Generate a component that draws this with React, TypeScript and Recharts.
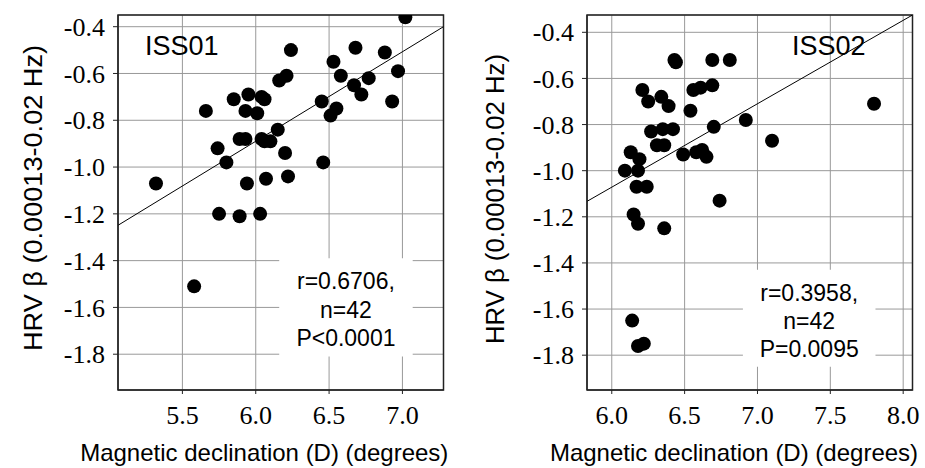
import { ScatterChart, Scatter, XAxis, YAxis, CartesianGrid, ReferenceLine, ReferenceArea, Label } from 'recharts'

// ISS01 panel
const iss01Declination = [
  7.02, 6.24, 6.68, 6.88, 6.53, 6.97, 6.58, 6.77, 6.16, 6.21, 6.67, 6.72, 6.93, 6.45,
  6.55, 6.51, 5.95, 5.85, 6.04, 6.06, 5.66, 5.93, 6.01, 6.15, 5.89, 5.93, 6.04, 6.06,
  6.1, 5.74, 6.2, 5.8, 6.46, 5.32, 5.94, 6.07, 6.22, 5.75, 5.89, 6.03, 5.58,
]
const iss01Beta = [
  -0.36, -0.5, -0.49, -0.51, -0.55, -0.59, -0.61, -0.62, -0.63, -0.61, -0.65, -0.69, -0.72, -0.72,
  -0.75, -0.78, -0.69, -0.71, -0.7, -0.71, -0.76, -0.76, -0.77, -0.84, -0.88, -0.88, -0.88, -0.89,
  -0.89, -0.92, -0.94, -0.98, -0.98, -1.07, -1.07, -1.05, -1.04, -1.2, -1.21, -1.2, -1.51,
]
const iss01Fit = [
  { x: 5.061, y: -1.249 },
  { x: 7.28, y: -0.4 },
]
const iss01Stats = ['r=0.6706,', 'n=42', 'P<0.0001']

// ISS02 panel
const iss02Declination = [
  6.43, 6.44, 6.69, 6.81, 6.21, 6.25, 6.34, 6.39, 6.56, 6.61, 6.69, 6.54, 6.27, 6.35,
  6.42, 6.31, 6.36, 6.7, 6.92, 7.1, 7.8, 6.13, 6.19, 6.09, 6.18, 6.49, 6.58, 6.62,
  6.65, 6.17, 6.24, 6.74, 6.15, 6.18, 6.36, 6.14, 6.18, 6.22,
]
const iss02Beta = [
  -0.52, -0.53, -0.52, -0.52, -0.65, -0.7, -0.68, -0.72, -0.65, -0.64, -0.63, -0.74, -0.83, -0.82,
  -0.82, -0.89, -0.89, -0.81, -0.78, -0.87, -0.71, -0.92, -0.95, -1.0, -1.0, -0.93, -0.92, -0.91,
  -0.94, -1.07, -1.07, -1.13, -1.19, -1.23, -1.25, -1.65, -1.76, -1.75,
]
const iss02Fit = [
  { x: 5.83, y: -1.133 },
  { x: 8.064, y: -0.325 },
]
const iss02Stats = ['r=0.3958,', 'n=42', 'P=0.0095']

const yTicks = [-1.8, -1.6, -1.4, -1.2, -1.0, -0.8, -0.6, -0.4]
const iss01XTicks = [5.5, 6.0, 6.5, 7.0]
const iss02XTicks = [6.0, 6.5, 7.0, 7.5, 8.0]

const SANS = '"Liberation Sans", Arial, sans-serif'
const SERIF =
  '"Liberation Serif", "DejaVu Serif", "Noto Serif", Tinos, FreeSerif, "Nimbus Roman", "Times New Roman", Times, serif'

const toPoints = (xs: number[], ys: number[]) => xs.map((x, i) => ({ x, y: ys[i] }))

const Dot = (props: any) => <circle cx={props.cx} cy={props.cy} r={7} fill="#000" />

const serifStyle = { fontFamily: SERIF, fontSize: 26, fill: '#000' }

const XTick = (props: any) => (
  <text x={props.x} y={props.y} dy="0.71em" textAnchor="middle" style={serifStyle}>
    {Number(props.payload.value).toFixed(1)}
  </text>
)

const YTick = (props: any) => (
  <text x={props.x} y={props.y} dy="0.35em" textAnchor="end" style={serifStyle}>
    {Number(props.payload.value).toFixed(1)}
  </text>
)

function Panel({
  name,
  nameX,
  xs,
  ys,
  xDomain,
  yDomain,
  xTicks,
  fit,
  stats,
  box,
  width,
  yAxisWidth,
  marginRight,
  yTitleDx,
  yTitleY,
  yTitleLength,
  xTitleDx,
}: any) {
  const data = toPoints(xs, ys)
  return (
    <ScatterChart
      width={width}
      height={468}
      margin={{ top: 15, right: marginRight, bottom: 0, left: 0 }}
    >
      <CartesianGrid stroke="#999" strokeWidth={1} />
      <XAxis
        type="number"
        dataKey="x"
        domain={xDomain}
        ticks={xTicks}
        allowDataOverflow
        tick={XTick}
        tickSize={4}
        tickMargin={12}
        stroke="#222"
        height={78}
      >
        <Label
          content={(p: any) => {
            const vb = p.viewBox
            return (
              <text
                x={vb.x + vb.width / 2 + xTitleDx}
                y={452.5}
                textAnchor="middle"
                dominantBaseline="central"
                fontFamily={SANS}
                fontSize={24}
                fill="#000"
              >
                Magnetic declination (D) (degrees)
              </text>
            )
          }}
        />
      </XAxis>
      <YAxis
        type="number"
        dataKey="y"
        domain={yDomain}
        ticks={yTicks}
        allowDataOverflow
        tick={YTick}
        tickSize={5}
        tickMargin={8}
        stroke="#222"
        width={yAxisWidth}
      >
        <Label
          content={(p: any) => {
            const vb = p.viewBox
            const cx = vb.x + yTitleDx
            const cy = yTitleY
            return (
              <text
                x={cx}
                y={cy}
                transform={`rotate(-90 ${cx} ${cy})`}
                textAnchor="middle"
                dominantBaseline="central"
                fontFamily={SANS}
                fontSize={25}
                textLength={yTitleLength}
                lengthAdjust="spacingAndGlyphs"
                fill="#000"
              >
                HRV β (0.00013-0.02 Hz)
              </text>
            )
          }}
        />
      </YAxis>
      <ReferenceArea
        x1={xDomain[0]}
        x2={xDomain[1]}
        y1={yDomain[0]}
        y2={yDomain[1]}
        fill="none"
        stroke="#222"
        strokeWidth={1.5}
        fillOpacity={0}
      />
      <ReferenceArea
        x1={box.x1}
        x2={box.x2}
        y1={box.y1}
        y2={box.y2}
        fill="#fff"
        fillOpacity={1}
        stroke="none"
        label={(p: any) => {
          const vb = p.viewBox
          const cx = vb.x + vb.width / 2
          return (
            <g>
              {stats.map((s: string, i: number) => (
                <text
                  key={s}
                  x={cx}
                  y={vb.y + 23 + i * 28.3}
                  textAnchor="middle"
                  dominantBaseline="central"
                  fontFamily={SANS}
                  fontSize={23}
                  fill="#000"
                >
                  {s}
                </text>
              ))}
            </g>
          )
        }}
      />
      <ReferenceLine segment={fit} stroke="#000" strokeWidth={1} ifOverflow="hidden" />
      <Scatter data={data} fill="#000" shape={Dot} isAnimationActive={false} />
      <text x={nameX} y={55} fontFamily={SANS} fontSize={27} fill="#000">
        {name}
      </text>
    </ScatterChart>
  )
}

export default function App() {
  return (
    <div
      style={{
        position: 'absolute',
        left: 0,
        top: 0,
        width: 925,
        height: 468,
        background: '#fff',
        display: 'flex',
      }}
    >
      <Panel
        name="ISS01"
        nameX={145}
        xs={iss01Declination}
        ys={iss01Beta}
        xDomain={[5.061, 7.28]}
        yDomain={[-1.953, -0.35]}
        xTicks={iss01XTicks}
        fit={iss01Fit}
        stats={iss01Stats}
        box={{ x1: 6.16, x2: 7.07, y1: -1.81, y2: -1.39 }}
        width={470}
        yAxisWidth={118}
        marginRight={26.5}
        yTitleDx={33}
        yTitleY={198}
        yTitleLength={306}
        xTitleDx={-16.5}
      />
      <Panel
        name="ISS02"
        nameX={322}
        xs={iss02Declination}
        ys={iss02Beta}
        xDomain={[5.83, 8.064]}
        yDomain={[-1.951, -0.325]}
        xTicks={iss02XTicks}
        fit={iss02Fit}
        stats={iss02Stats}
        box={{ x1: 6.9, x2: 7.81, y1: -1.85, y2: -1.43 }}
        width={455}
        yAxisWidth={117}
        marginRight={12.5}
        yTitleDx={25}
        yTitleY={199}
        yTitleLength={290}
        xTitleDx={-15.75}
      />
    </div>
  )
}
